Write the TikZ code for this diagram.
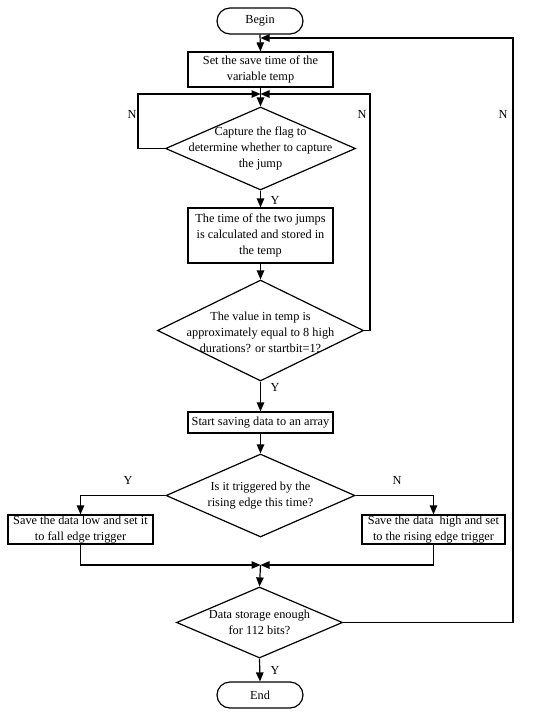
\documentclass[tikz,border=0pt]{standalone}
\usepackage{fontspec}
\setmainfont{Liberation Serif}
\usetikzlibrary{arrows.meta,shapes.geometric}
\begin{document}
\begin{tikzpicture}[x=1pt,y=-1pt,
  every node/.style={font=\fontsize{12.3}{16}\selectfont},
  line/.style={line width=1.2pt,draw=black},
  arr/.style={line,-{Triangle[length=9pt,width=7.5pt]}},
  term/.style={line,rectangle,rounded corners=13pt,minimum width=86pt,minimum height=26pt,inner sep=0pt},
  proc/.style={line,rectangle,minimum width=145pt,inner sep=0pt,align=center},
  dia/.style={line,diamond,inner sep=0pt},
  lab/.style={inner sep=0pt}]
\useasboundingbox (0,0) rectangle (550,713);
\node[term] (begin) at (260,21) {Begin};
\node[proc,minimum height=35pt] (set) at (260.5,69.5) {Set the save time of the\\variable temp};
\node[dia,minimum width=190pt,minimum height=83pt,
  label={[align=center,lab]center:Capture the flag to\\determine whether to capture\\the jump}] (d1) at (260.5,148.5) {};
\node[proc,minimum height=55pt] (calc) at (260.5,235.5) {The time of the two jumps\\is calculated and stored in\\the temp};
\node[dia,minimum width=206pt,minimum height=101pt,
  label={[align=center,lab,yshift=-1.5pt]center:The value in temp is\\approximately equal to 8 high\\durations? or startbit=1?}] (d2) at (260.5,330.5) {};
\node[proc,minimum height=21pt] (start) at (260.5,422.5) {Start saving data to an array};
\node[dia,minimum width=189pt,minimum height=83pt,
  label={[align=center,lab]center:Is it triggered by the\\rising edge this time?}] (d3) at (260.5,495.5) {};
\node[proc,minimum height=29pt] (low) at (80.5,529.5) {Save the data low and set it\\to fall edge trigger};
\node[proc,minimum width=143pt,minimum height=29pt] (high) at (433.5,529.5) {Save the data~ high and set\\to the rising edge trigger};
\node[dia,minimum width=166pt,minimum height=71pt,
  label={[align=center,lab]center:Data storage enough\\for 112 bits?}] (d4) at (259.5,622.5) {};
\node[term] (end) at (260,695) {End};
\coordinate (j0) at (260.5,38);
\coordinate (j1) at (260.5,94);
\coordinate (j2) at (260.5,565);
\coordinate (rl) at (138,94);
\coordinate (rr) at (370,94);
\coordinate (rf) at (513,38);
% main flow
\draw[arr] (begin.south) -- (set.north);
\draw[arr] (set.south) -- (d1.north);
\draw[arr] (d1.south) -- (calc.north);
\draw[arr] (calc.south) -- (d2.north);
\draw[arr] (d2.south) -- (start.north);
\draw[arr] (start.south) -- (d3.north);
\draw[arr] (d3.west) -| (low.north);
\draw[arr] (d3.east) -| (high.north);
\draw[arr] (low.south) |- (j2);
\draw[arr] (high.south) |- (j2);
\draw[arr] (j2) -- (d4.north);
\draw[arr] (d4.south) -- (end.north);
% loops
\draw[arr] (d1.west) -| (rl) -- (j1);
\draw[arr] (d2.east) -| (rr) -- (j1);
\draw[arr] (d4.east) -| (rf) -- (j0);
% labels
\node[lab] (n1) at (132,114) {N};
\node[lab] (n2) at (362,114) {N};
\node[lab] (n3) at (503,114) {N};
\node[lab] (y1) at (275,200) {Y};
\node[lab] (y2) at (275,387) {Y};
\node[lab] (y3) at (128,480) {Y};
\node[lab] (n4) at (397,480) {N};
\node[lab] (y4) at (275,670) {Y};
\end{tikzpicture}
\end{document}
